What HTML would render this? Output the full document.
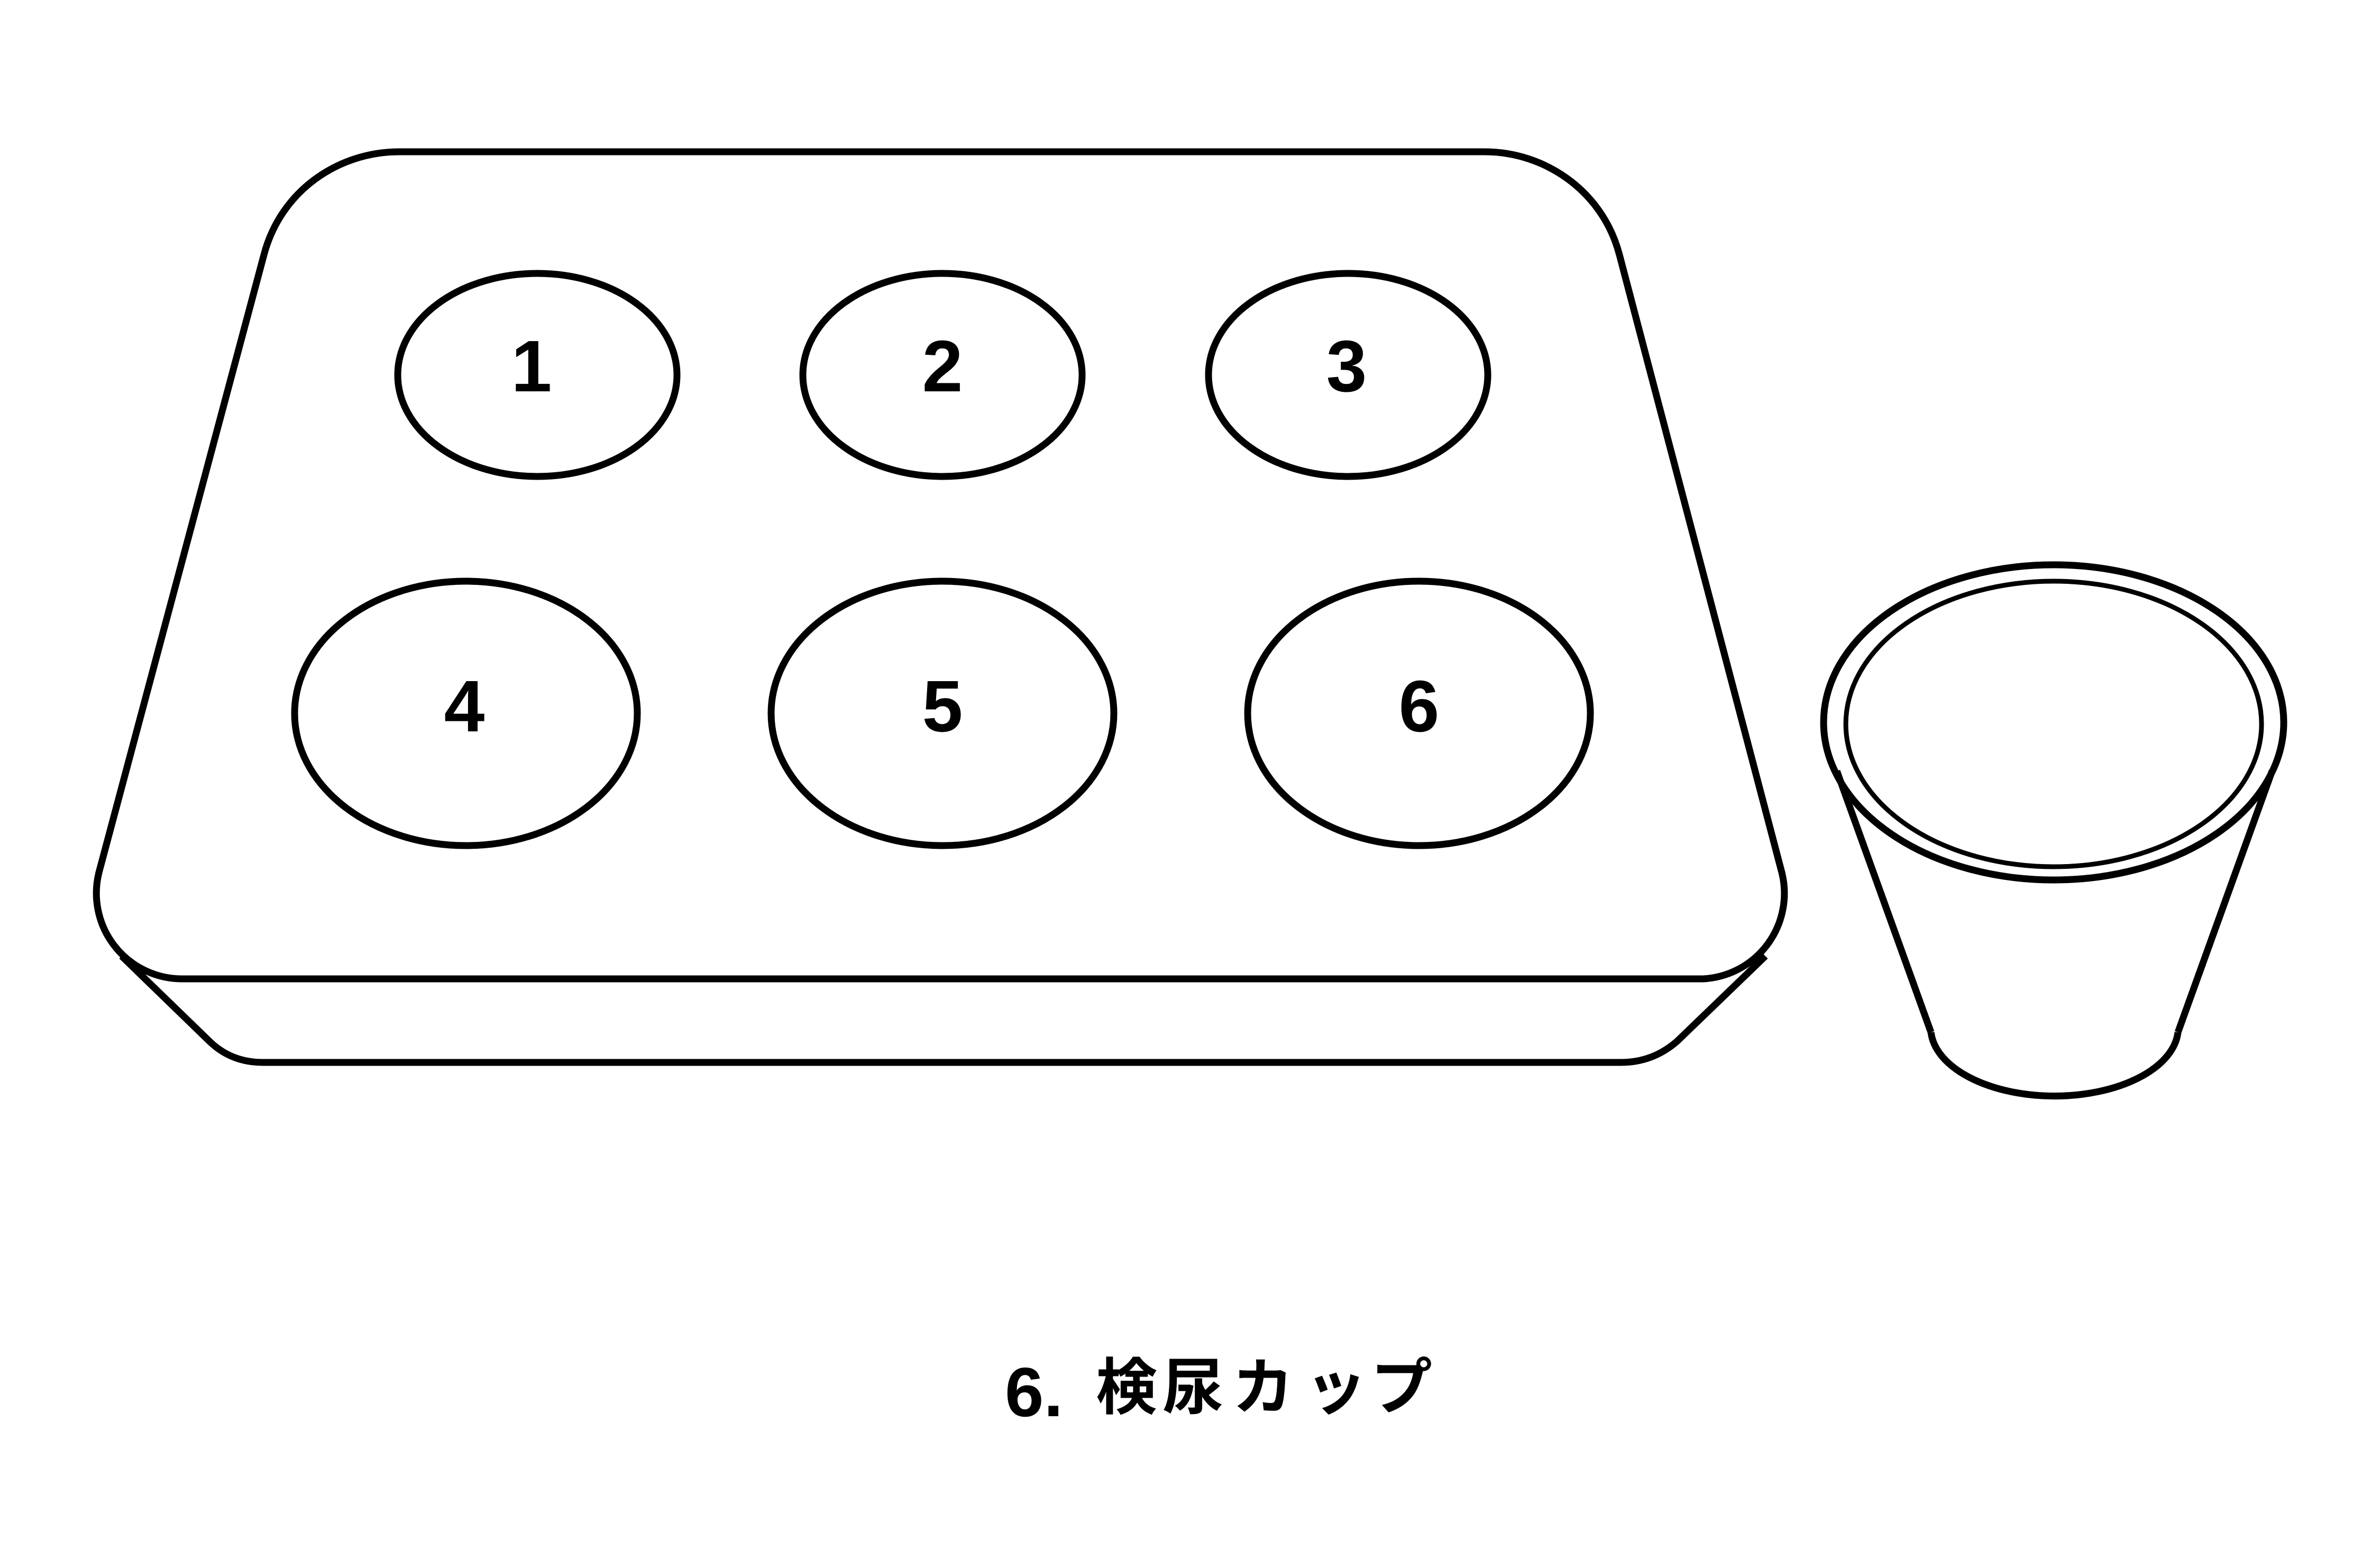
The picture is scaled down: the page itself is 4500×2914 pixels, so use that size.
<!DOCTYPE html>
<html><head><meta charset="utf-8"><style>
html,body{margin:0;padding:0;background:#fff;}
body{width:4500px;height:2914px;position:relative;overflow:hidden;}
svg{position:absolute;left:0;top:0;}
.n{font-family:"Liberation Sans",sans-serif;font-weight:bold;font-size:138px;fill:#000;}
.c{position:absolute;top:2566px;font-family:"Liberation Sans","Noto Sans CJK JP",sans-serif;font-weight:bold;font-size:116px;line-height:1;color:#000;}
</style></head><body>
<svg width="4500" height="2914" viewBox="0 0 4500 2914" fill="none" stroke="#000" stroke-width="13" stroke-linejoin="round">
<path d="M755,287 L2807,287 C2920,287 3030,360 3062,482 L3369,1650 A162 162 0 0 1 3220,1851 L344,1851 A162 162 0 0 1 187,1650 L499,482 C531,360 640,287 755,287 Z"/>
<path d="M230,1808 L396,1969 Q437,2009 497,2009 L3065,2009 Q3125,2009 3171,1969 L3338,1808"/>
<ellipse cx="1016" cy="709" rx="264" ry="192"/>
<ellipse cx="1782" cy="709" rx="264" ry="192"/>
<ellipse cx="2549" cy="709" rx="264" ry="192"/>
<ellipse cx="881" cy="1349" rx="324" ry="250"/>
<ellipse cx="1782" cy="1349" rx="324" ry="250"/>
<ellipse cx="2683" cy="1349" rx="324" ry="250"/>
<ellipse cx="3883" cy="1366" rx="435" ry="298"/>
<ellipse cx="3883" cy="1369" rx="393" ry="270" stroke-width="9"/>
<path d="M3473,1458 L3651,1952"/>
<path d="M4296,1458 L4118,1952"/>
<path d="M3651,1952 A234 129 0 0 0 4118,1952"/>
<g stroke="none">
<text class="n" x="1005" y="740" text-anchor="middle">1</text>
<text class="n" x="1782" y="740" text-anchor="middle">2</text>
<text class="n" x="2546" y="740" text-anchor="middle">3</text>
<text class="n" x="878" y="1383" text-anchor="middle">4</text>
<text class="n" x="1782" y="1383" text-anchor="middle">5</text>
<text class="n" x="2683" y="1383" text-anchor="middle">6</text>
<text x="1900" y="2678" style="font-family:'Liberation Sans',sans-serif;font-weight:bold;font-size:132px" fill="#000">6.</text>
</g>
</svg>
<div class="c" style="left:2072px">検</div>
<div class="c" style="left:2198px">尿</div>
<div class="c" style="left:2330px">カ</div>
<div class="c" style="left:2468px">ッ</div>
<div class="c" style="left:2592px">プ</div>
</body></html>
